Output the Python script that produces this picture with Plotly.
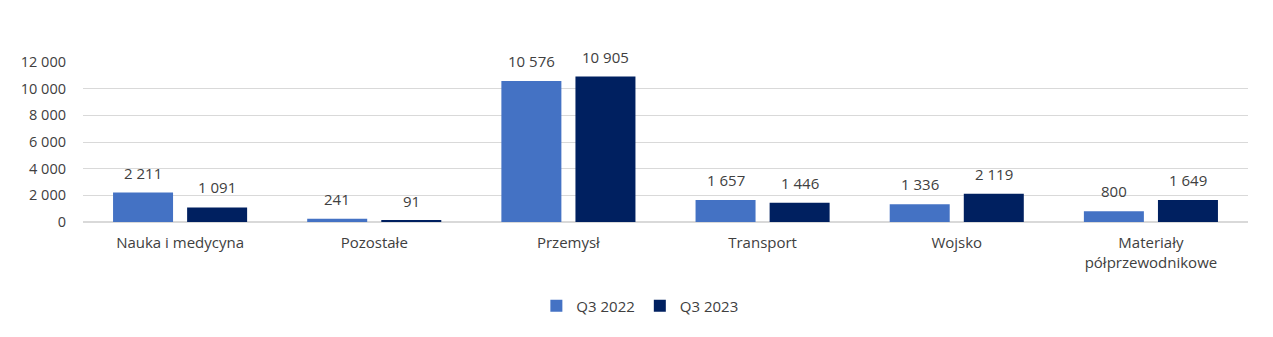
import plotly.graph_objects as go

categories = ["Nauka i medycyna", "Pozostałe", "Przemysł", "Transport", "Wojsko",
              "Materiały<br>półprzewodnikowe"]
q3_2022 = [2211, 241, 10576, 1657, 1336, 800]
q3_2023 = [1091, 91, 10905, 1446, 2119, 1649]
series_names = ["Q3 2022", "Q3 2023"]
colors = ["#4472C4", "#002060"]
font_family = "'Open Sans', sans-serif"
label_color = "#404040"

BARGAP = 0.237
BARGROUPGAP = 0.19


def fmt(v):
    return f"{v:,}".replace(",", " ")


fig = go.Figure()
for name, vals, col in zip(series_names, [q3_2022, q3_2023], colors):
    fig.add_trace(go.Bar(x=categories, y=vals, name=name, marker_color=col,
                         marker_line_width=0))

# value labels above each bar, centred on each bar's slot within the group
slot = (1 - BARGAP) / 2
for vals, side in zip([q3_2022, q3_2023], [-1, 1]):
    for j, v in enumerate(vals):
        fig.add_annotation(x=j + side * slot / 2, y=v, xref="x", yref="y",
                           text=fmt(v), showarrow=False, yanchor="bottom",
                           yshift=8, font=dict(size=15, color=label_color,
                                               family=font_family))

fig.update_layout(
    width=1273, height=337,
    margin=dict(l=83, r=25, t=62, b=115, autoexpand=False),
    plot_bgcolor="white", paper_bgcolor="white",
    barmode="group", bargap=BARGAP, bargroupgap=BARGROUPGAP,
    separators=". ",
    font=dict(family=font_family, size=15, color=label_color),
    legend=dict(orientation="h", x=0.478, xanchor="center",
                yref="container", y=0.092, yanchor="middle",
                font=dict(size=15, color=label_color), itemwidth=30,
                traceorder="normal"),
    showlegend=True,
)
fig.update_xaxes(type="category", showgrid=False, showline=False, ticks="",
                 ticklabelstandoff=10, tickfont=dict(size=15, color=label_color))
fig.update_yaxes(range=[0, 12000], dtick=2000, tickformat=",d", showgrid=True,
                 gridcolor="#D9D9D9", gridwidth=1, zeroline=True, zerolinecolor="#D9D9D9",
                 showline=False, ticks="", ticklabelstandoff=16,
                 tickfont=dict(size=14.5, color=label_color))

fig.write_html("out.html")
